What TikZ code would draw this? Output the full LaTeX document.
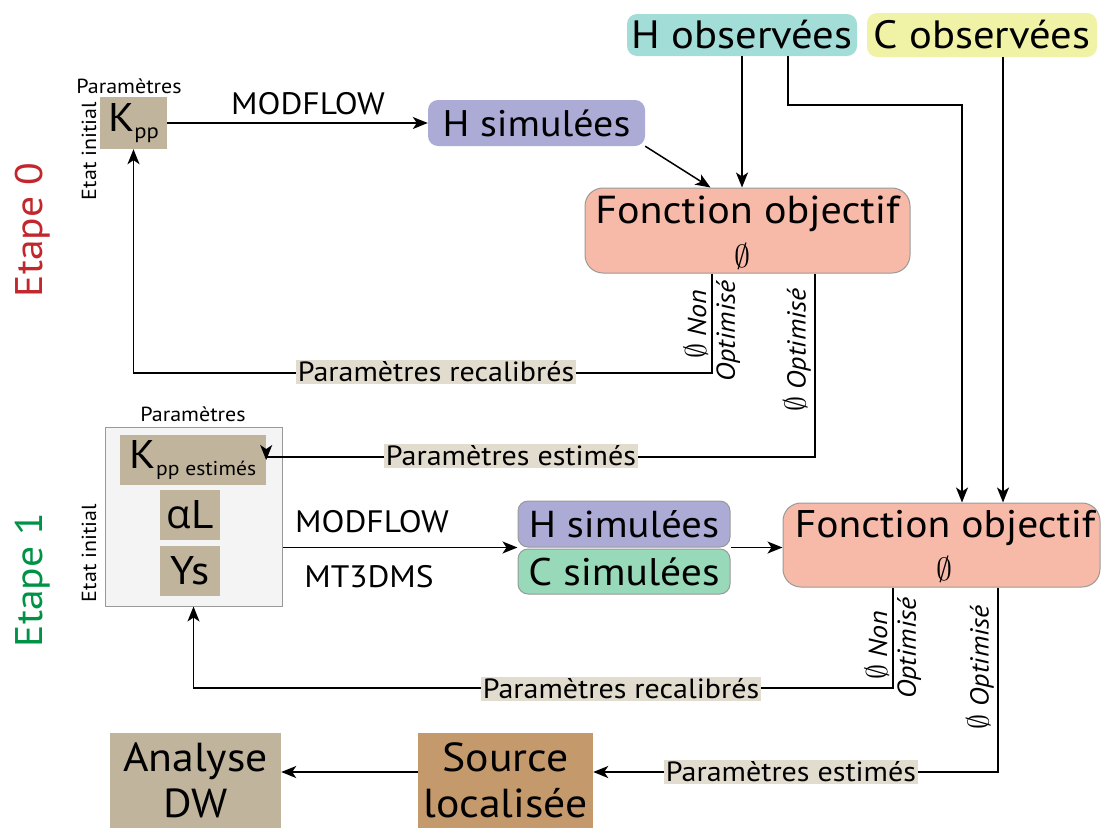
\documentclass[tikz,border=0pt]{standalone}
\usepackage{fontspec}
\usepackage{graphicx}
\setmainfont{PT Sans}[FakeStretch=1.08]
\newfontfamily\greekfont{Open Sans}
\usetikzlibrary{arrows.meta,calc}
\definecolor{cteal}{HTML}{A2DDD7}
\definecolor{cyel}{HTML}{F0F2A6}
\definecolor{clav}{HTML}{ABABD5}
\definecolor{csal}{HTML}{F7BAA8}
\definecolor{ctan}{HTML}{C1B49C}
\definecolor{cgrn}{HTML}{97D9B8}
\definecolor{csrc}{HTML}{C4996B}
\definecolor{clab}{HTML}{E2DCCF}
\definecolor{cbox}{HTML}{F4F4F4}
\definecolor{cbord}{HTML}{999999}
\definecolor{cred}{HTML}{C1272D}
\definecolor{cgreen}{HTML}{009245}
\newcommand{\fs}[1]{\fontsize{#1}{#1}\selectfont}
\newcommand{\phiv}[1]{\scalebox{#1}{\normalsize$\emptyset$}}
\tikzset{
  box/.style={inner sep=0pt, align=center},
  arr/.style={draw=black, line width=1.5pt, -{Stealth[length=15pt,width=12pt,inset=4pt]}},
  lab/.style={fill=clab, inner sep=2pt, font=\fs{27.8}},
  rlab/.style={rotate=90, inner sep=1pt, font=\fs{26}\itshape},
  small/.style={font=\fs{20.4}, inner sep=0pt},
  tool/.style={font=\fs{31}, inner sep=0pt},
}
\begin{document}
\begin{tikzpicture}[x=1pt,y=-1pt]
\useasboundingbox (0,0) rectangle (1103,828);
% Etape labels
\node[rotate=90, text=cred, font=\fs{38.5}] (e0) at (33,230) {Etape 0};
\node[rotate=90, text=cgreen, font=\fs{38.5}] (e1) at (33,580) {Etape 1};
% observed
\node[box, font=\fs{39.5}, fill=cteal, rounded corners=10pt, minimum width=230pt, minimum height=42pt] (hobs) at (742,35) {H observées};
\node[box, font=\fs{39.5}, fill=cyel, rounded corners=10pt, minimum width=230pt, minimum height=44pt] (cobs) at (982,35) {C observées};
% Etape 0
\node[small] (par0) at (129,86) {Paramètres};
\node[small, rotate=90] (et0) at (89,151) {Etat initial};
\node[box, fill=ctan, minimum width=67pt, minimum height=52pt] (kpp) at (133.5,123) {\fs{40}K\raisebox{-7pt}{\fs{21}pp}};
\node[box, font=\fs{37}, fill=clav, rounded corners=10pt, minimum width=217pt, minimum height=46pt] (hsim) at (536.5,123) {H simulées};
\node[box, fill=csal, draw=cbord, line width=1pt, rounded corners=18pt, minimum width=325pt, minimum height=85pt] (fo0) at (747.5,230.5) {};
\node[font=\fs{39}, inner sep=0pt] (fo0t) at (747.5,214) {Fonction objectif};
\node[inner sep=0pt] (fo0p) at (742,256) {\phiv{3.2}};
\node[tool] (mf0) at (308,104) {MODFLOW};
\draw[arr] (kpp.east) -- (kpp.east -| hsim.west);
\draw[arr] (hsim.south east) -- ($(fo0.north)+(-37,0)$);
\draw[arr] (hobs.south) -- (hobs.south |- fo0.north);
\coordinate (d1) at (788,105);
\coordinate (d2) at (962,105);
\coordinate (d3) at (1003,100);
% recalibration loop etape 0
\coordinate (c1) at (712,373);
\draw[arr] (fo0.south -| c1) -- (c1) -- (c1 -| kpp.south) -- (kpp.south);
\node[lab] (pr0) at (436,372) {Paramètres recalibrés};
\node[rlab, anchor=south] (non0) at (709,324) {\phiv{3} Non};
\node[rlab, anchor=north] (opt0) at (715,331) {Optimisé};
% Etape 1 box
\node[box, fill=cbox, draw=cbord, line width=1pt, minimum width=177pt, minimum height=179pt] (box1) at (193.5,516.5) {};
\node[small] (par1) at (193,414) {Paramètres};
\node[small, rotate=90] (et1) at (89,553) {Etat initial};
\node[box, fill=ctan, minimum width=146pt, minimum height=50pt] (kppe) at (193,460) {\fs{40}K\raisebox{-7pt}{\fs{20}pp estimés}};
\node[box, fill=ctan, minimum width=60pt, minimum height=50pt] (al) at (190,515) {\fs{40}{\greekfont α}L};
\node[box, font=\fs{40}, fill=ctan, minimum width=60pt, minimum height=50pt] (ys) at (190,571) {Ys};
% estimated from etape 0
\coordinate (c2) at (815,457);
\draw[arr] (fo0.south -| c2) -- (c2) -- (c2 -| kppe.east) -- (kppe.east);
\node[lab] (pe0) at (511,456) {Paramètres estimés};
\node[rlab, anchor=south] (opt0b) at (812,350) {\phiv{3} Optimisé};
% simulated etape 1
\node[box, font=\fs{37.5}, fill=clav, draw=cbord, line width=1pt, rounded corners=10pt, minimum width=212pt, minimum height=46pt] (hsim1) at (624,524) {H simulées};
\node[box, font=\fs{38.5}, fill=cgrn, draw=cbord, line width=1pt, rounded corners=10pt, minimum width=212pt, minimum height=45pt] (csim1) at (624,571.5) {C simulées};
\node[tool] (mf1) at (372,522) {MODFLOW};
\node[tool] (mt1) at (369,577) {MT3DMS};
\draw[arr] (box1.east |- hsim1.south west) -- (hsim1.south west);
\node[box, fill=csal, draw=cbord, line width=1pt, rounded corners=18pt, minimum width=317pt, minimum height=84pt] (fo1) at (941.5,545) {};
\node[font=\fs{38.5}, inner sep=0pt] (fo1t) at (945,528) {Fonction objectif};
\node[inner sep=0pt] (fo1p) at (944,569) {\phiv{3.2}};
\draw[arr] (hsim1.south east) -- (fo1.west |- hsim1.south east);
\draw[arr] (hobs.south -| d1) -- (d1) -- (d2) -- (d2 |- fo1.north);
\draw[arr] (cobs.south -| d3) -- (d3 |- fo1.north);
% recalibration loop etape 1
\coordinate (c3) at (893,688);
\draw[arr] (fo1.south -| c3) -- (c3) -- (c3 -| box1.south) -- (box1.south);
\node[lab] (pr1) at (621,689) {Paramètres recalibrés};
\node[rlab, anchor=south] (non1) at (890,645) {\phiv{3} Non};
\node[rlab, anchor=north] (opt1) at (896,648) {Optimisé};
% final
\node[box, fill=csrc, minimum width=175pt, minimum height=95pt, font=\fontsize{40.5}{46}\selectfont] (src) at (505.5,780.5) {Source\\localisée};
\node[box, fill=ctan, minimum width=171pt, minimum height=95pt, font=\fontsize{40.5}{46}\selectfont] (ana) at (195.5,780.5) {Analyse\\DW};
\coordinate (c4) at (998,772);
\draw[arr] (fo1.south -| c4) -- (c4) -- (c4 -| src.east);
\node[lab] (pe1) at (791,772) {Paramètres estimés};
\node[rlab, anchor=south] (opt1b) at (995,667) {\phiv{3} Optimisé};
\draw[arr] (src.west |- c4) -- (ana.east |- c4);
\end{tikzpicture}
\end{document}
